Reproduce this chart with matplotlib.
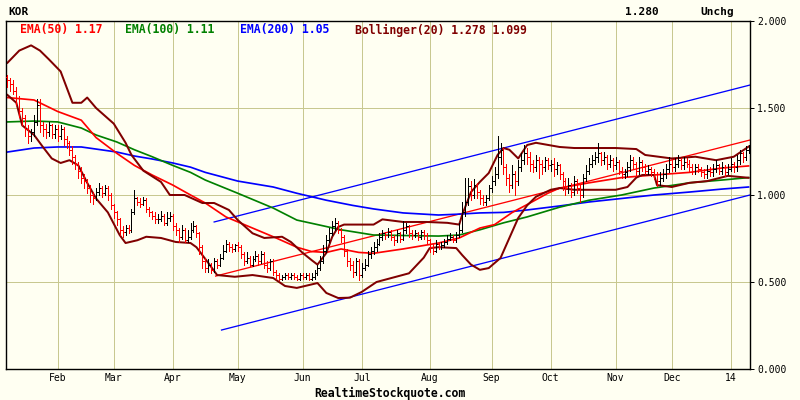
import numpy as np
import matplotlib
matplotlib.use("Agg")
import matplotlib.pyplot as plt

# daily bars, index 0 = first trading day shown (early Jan 2013)
closes = [
    1.66, 1.64, 1.60, 1.56, 1.48, 1.44, 1.38, 1.34, 1.36, 1.42, 1.52, 1.40,
    1.38, 1.36, 1.40, 1.35, 1.38, 1.34, 1.38, 1.32, 1.30, 1.26, 1.22, 1.18,
    1.14, 1.10, 1.08, 1.04, 1.00, 0.98, 1.02, 1.04, 1.01, 1.04, 1.00, 0.94,
    0.90, 0.86, 0.80, 0.79, 0.81, 0.80, 0.90, 0.98, 0.96, 0.95, 0.97, 0.92,
    0.90, 0.88, 0.86, 0.86, 0.88, 0.84, 0.87, 0.88, 0.82, 0.80, 0.76, 0.80,
    0.74, 0.76, 0.80, 0.82, 0.78, 0.70, 0.62, 0.58, 0.60, 0.57, 0.62, 0.60,
    0.64, 0.68, 0.72, 0.70, 0.69, 0.71, 0.70, 0.66, 0.62, 0.64, 0.60, 0.63,
    0.65, 0.62, 0.66, 0.60, 0.58, 0.62, 0.56, 0.54, 0.52, 0.53, 0.54, 0.53,
    0.54, 0.53, 0.52, 0.54, 0.53, 0.54, 0.52, 0.53, 0.55, 0.58, 0.62, 0.68,
    0.74, 0.78, 0.82, 0.84, 0.80, 0.76, 0.68, 0.62, 0.60, 0.56, 0.62, 0.54,
    0.58, 0.60, 0.66, 0.68, 0.70, 0.72, 0.76, 0.78, 0.77, 0.79, 0.76, 0.74,
    0.78, 0.75, 0.80, 0.82, 0.78, 0.77, 0.78, 0.76, 0.79, 0.77, 0.74, 0.70,
    0.68, 0.72, 0.70, 0.71, 0.73, 0.75, 0.76, 0.74, 0.77, 0.80, 0.90, 0.96,
    1.05, 1.00, 1.06, 1.02, 0.98, 0.96, 0.98, 1.04, 1.08, 1.12, 1.22, 1.26,
    1.16, 1.10, 1.06, 1.12, 1.08, 1.16, 1.20, 1.24, 1.22, 1.18, 1.16, 1.20,
    1.18, 1.16, 1.20, 1.17, 1.18, 1.15, 1.17, 1.12, 1.08, 1.04, 1.06, 1.02,
    1.08, 1.04, 1.00, 1.10, 1.14, 1.18, 1.20, 1.22, 1.24, 1.20, 1.22, 1.18,
    1.20, 1.17, 1.19, 1.14, 1.12, 1.13, 1.16, 1.20, 1.18, 1.14, 1.19, 1.16,
    1.14, 1.15, 1.13, 1.12, 1.08, 1.10, 1.12, 1.15, 1.18, 1.16, 1.18, 1.20,
    1.17, 1.19, 1.18, 1.16, 1.14, 1.16, 1.15, 1.13, 1.12, 1.14, 1.13, 1.15,
    1.17, 1.14, 1.16, 1.13, 1.15, 1.18, 1.16, 1.20, 1.24, 1.22, 1.26, 1.28,
]
opens = [
    1.68, 1.66, 1.64, 1.60, 1.56, 1.48, 1.44, 1.38, 1.34, 1.36, 1.42, 1.52,
    1.40, 1.38, 1.36, 1.40, 1.35, 1.38, 1.34, 1.38, 1.32, 1.30, 1.26, 1.22,
    1.18, 1.14, 1.10, 1.08, 1.04, 1.00, 0.98, 1.02, 1.04, 1.01, 1.04, 1.00,
    0.94, 0.90, 0.86, 0.80, 0.79, 0.81, 0.80, 0.90, 0.98, 0.96, 0.95, 0.97,
    0.92, 0.90, 0.88, 0.86, 0.86, 0.88, 0.84, 0.87, 0.88, 0.82, 0.80, 0.76,
    0.80, 0.74, 0.76, 0.80, 0.82, 0.78, 0.70, 0.62, 0.58, 0.60, 0.57, 0.62,
    0.60, 0.64, 0.68, 0.72, 0.70, 0.69, 0.71, 0.70, 0.66, 0.62, 0.64, 0.60,
    0.63, 0.65, 0.62, 0.66, 0.60, 0.58, 0.62, 0.56, 0.54, 0.52, 0.53, 0.54,
    0.53, 0.54, 0.53, 0.52, 0.54, 0.53, 0.54, 0.52, 0.53, 0.55, 0.58, 0.62,
    0.68, 0.74, 0.78, 0.82, 0.84, 0.80, 0.76, 0.68, 0.62, 0.60, 0.56, 0.62,
    0.54, 0.58, 0.60, 0.66, 0.68, 0.70, 0.72, 0.76, 0.78, 0.77, 0.79, 0.76,
    0.74, 0.78, 0.75, 0.80, 0.82, 0.78, 0.77, 0.78, 0.76, 0.79, 0.77, 0.74,
    0.70, 0.68, 0.72, 0.70, 0.71, 0.73, 0.75, 0.76, 0.74, 0.77, 0.80, 0.90,
    0.96, 1.05, 1.00, 1.06, 1.02, 0.98, 0.96, 0.98, 1.04, 1.08, 1.12, 1.22,
    1.26, 1.16, 1.10, 1.06, 1.12, 1.08, 1.16, 1.20, 1.24, 1.22, 1.18, 1.16,
    1.20, 1.18, 1.16, 1.20, 1.17, 1.18, 1.15, 1.17, 1.12, 1.08, 1.04, 1.06,
    1.02, 1.08, 1.04, 1.00, 1.10, 1.14, 1.18, 1.20, 1.22, 1.24, 1.20, 1.22,
    1.18, 1.20, 1.17, 1.19, 1.14, 1.12, 1.13, 1.16, 1.20, 1.18, 1.14, 1.19,
    1.16, 1.14, 1.15, 1.13, 1.12, 1.08, 1.10, 1.12, 1.15, 1.18, 1.16, 1.18,
    1.20, 1.17, 1.19, 1.18, 1.16, 1.14, 1.16, 1.15, 1.13, 1.12, 1.14, 1.13,
    1.15, 1.17, 1.14, 1.16, 1.13, 1.15, 1.18, 1.16, 1.20, 1.24, 1.22, 1.26,
]
highs = [
    1.69, 1.67, 1.66, 1.62, 1.57, 1.50, 1.46, 1.40, 1.38, 1.46, 1.55, 1.55,
    1.42, 1.41, 1.42, 1.41, 1.40, 1.40, 1.40, 1.39, 1.34, 1.31, 1.28, 1.23,
    1.19, 1.16, 1.12, 1.09, 1.06, 1.02, 1.04, 1.07, 1.05, 1.06, 1.05, 1.01,
    0.95, 0.91, 0.87, 0.82, 0.83, 0.83, 0.92, 1.03, 0.99, 0.98, 0.99, 0.98,
    0.93, 0.91, 0.90, 0.89, 0.91, 0.89, 0.90, 0.90, 0.89, 0.84, 0.81, 0.83,
    0.81, 0.80, 0.84, 0.85, 0.83, 0.79, 0.71, 0.64, 0.63, 0.61, 0.64, 0.63,
    0.66, 0.71, 0.74, 0.73, 0.72, 0.72, 0.73, 0.71, 0.67, 0.67, 0.65, 0.65,
    0.68, 0.66, 0.68, 0.67, 0.62, 0.63, 0.63, 0.57, 0.55, 0.54, 0.55, 0.55,
    0.55, 0.55, 0.54, 0.55, 0.55, 0.55, 0.55, 0.55, 0.57, 0.60, 0.65, 0.71,
    0.77, 0.81, 0.85, 0.87, 0.85, 0.81, 0.77, 0.69, 0.64, 0.62, 0.64, 0.63,
    0.61, 0.63, 0.68, 0.70, 0.73, 0.75, 0.78, 0.80, 0.79, 0.81, 0.80, 0.77,
    0.80, 0.79, 0.85, 0.84, 0.83, 0.80, 0.80, 0.79, 0.80, 0.80, 0.78, 0.75,
    0.72, 0.74, 0.73, 0.73, 0.75, 0.77, 0.78, 0.77, 0.79, 0.84, 0.96, 1.10,
    1.10, 1.08, 1.09, 1.07, 1.03, 1.00, 1.00, 1.06, 1.11, 1.16, 1.34, 1.30,
    1.27, 1.18, 1.12, 1.17, 1.14, 1.20, 1.24, 1.29, 1.27, 1.25, 1.20, 1.23,
    1.22, 1.20, 1.22, 1.21, 1.20, 1.21, 1.19, 1.18, 1.13, 1.10, 1.10, 1.07,
    1.11, 1.09, 1.06, 1.12, 1.17, 1.21, 1.23, 1.25, 1.30, 1.25, 1.25, 1.23,
    1.23, 1.21, 1.22, 1.20, 1.16, 1.15, 1.19, 1.23, 1.22, 1.19, 1.22, 1.20,
    1.18, 1.17, 1.16, 1.15, 1.13, 1.13, 1.15, 1.18, 1.22, 1.20, 1.21, 1.23,
    1.21, 1.22, 1.21, 1.20, 1.18, 1.18, 1.18, 1.16, 1.15, 1.17, 1.16, 1.18,
    1.20, 1.18, 1.19, 1.17, 1.18, 1.21, 1.19, 1.23, 1.26, 1.25, 1.28, 1.29,
]
lows = [
    1.62, 1.60, 1.58, 1.52, 1.45, 1.40, 1.34, 1.30, 1.31, 1.34, 1.40, 1.36,
    1.34, 1.33, 1.34, 1.33, 1.33, 1.31, 1.32, 1.29, 1.27, 1.23, 1.18, 1.15,
    1.10, 1.07, 1.04, 1.01, 0.96, 0.95, 0.97, 1.00, 0.99, 1.00, 0.97, 0.92,
    0.87, 0.83, 0.77, 0.76, 0.77, 0.78, 0.79, 0.89, 0.94, 0.93, 0.94, 0.90,
    0.88, 0.86, 0.84, 0.84, 0.85, 0.83, 0.83, 0.85, 0.80, 0.77, 0.73, 0.75,
    0.73, 0.73, 0.75, 0.79, 0.76, 0.66, 0.58, 0.56, 0.56, 0.55, 0.56, 0.58,
    0.59, 0.63, 0.67, 0.68, 0.67, 0.68, 0.68, 0.64, 0.60, 0.61, 0.59, 0.59,
    0.62, 0.60, 0.61, 0.58, 0.56, 0.57, 0.54, 0.52, 0.51, 0.51, 0.52, 0.52,
    0.52, 0.52, 0.51, 0.51, 0.52, 0.52, 0.51, 0.51, 0.52, 0.54, 0.57, 0.61,
    0.67, 0.73, 0.77, 0.80, 0.78, 0.73, 0.65, 0.59, 0.57, 0.53, 0.54, 0.51,
    0.53, 0.57, 0.59, 0.64, 0.66, 0.68, 0.71, 0.74, 0.75, 0.76, 0.74, 0.71,
    0.73, 0.73, 0.74, 0.78, 0.76, 0.75, 0.76, 0.74, 0.75, 0.75, 0.72, 0.67,
    0.66, 0.67, 0.69, 0.69, 0.70, 0.72, 0.74, 0.73, 0.73, 0.76, 0.79, 0.88,
    0.94, 0.97, 0.98, 0.98, 0.95, 0.94, 0.94, 0.97, 1.02, 1.06, 1.10, 1.18,
    1.12, 1.06, 1.02, 1.04, 1.00, 1.06, 1.14, 1.18, 1.18, 1.14, 1.13, 1.14,
    1.10, 1.12, 1.14, 1.15, 1.14, 1.11, 1.12, 1.09, 1.03, 1.00, 1.01, 0.99,
    1.00, 1.01, 0.96, 0.99, 1.08, 1.12, 1.16, 1.18, 1.19, 1.17, 1.18, 1.15,
    1.16, 1.14, 1.15, 1.12, 1.10, 1.10, 1.11, 1.14, 1.15, 1.11, 1.12, 1.14,
    1.12, 1.12, 1.11, 1.09, 1.05, 1.06, 1.08, 1.10, 1.13, 1.14, 1.14, 1.16,
    1.15, 1.15, 1.16, 1.14, 1.12, 1.12, 1.13, 1.11, 1.10, 1.10, 1.11, 1.11,
    1.13, 1.12, 1.12, 1.11, 1.12, 1.14, 1.13, 1.14, 1.18, 1.19, 1.20, 1.24,
]

# indicator readings (bar index, value)
ema50_idx = [0, 9, 17, 25, 30, 37, 43, 49, 56, 62, 67, 74, 83, 91, 98, 103, 108, 113,
             119, 124, 134, 146, 153, 160, 165, 171, 177, 183, 187, 197, 208, 219, 231, 242, 251]
ema50 = [1.56, 1.546, 1.48, 1.43, 1.33, 1.24, 1.17, 1.115, 1.057, 1.00, 0.954, 0.874, 0.81,
         0.753, 0.70, 0.675, 0.67, 0.69, 0.67, 0.665, 0.69, 0.724, 0.753, 0.81, 0.83, 0.90,
         0.954, 1.01, 1.04, 1.07, 1.10, 1.115, 1.13, 1.155, 1.167]

ema100_idx = [0, 9, 17, 25, 30, 37, 43, 49, 56, 62, 67, 78, 90, 98, 105, 113, 124, 146,
              153, 160, 168, 176, 187, 197, 208, 219, 231, 242, 251]
ema100 = [1.42, 1.425, 1.42, 1.385, 1.345, 1.305, 1.26, 1.22, 1.17, 1.13, 1.086, 1.01, 0.925,
          0.856, 0.83, 0.80, 0.77, 0.764, 0.77, 0.80, 0.84, 0.874, 0.93, 0.97, 1.00, 1.04,
          1.07, 1.086, 1.10]

ema200_idx = [0, 9, 17, 25, 30, 37, 43, 49, 56, 62, 67, 78, 90, 98, 108, 117, 124, 134,
              146, 153, 160, 168, 176, 187, 197, 208, 219, 231, 242, 251]
ema200 = [1.247, 1.27, 1.276, 1.276, 1.264, 1.247, 1.224, 1.207, 1.184, 1.16, 1.13, 1.08,
          1.046, 1.01, 0.97, 0.94, 0.92, 0.897, 0.885, 0.89, 0.897, 0.90, 0.914, 0.937,
          0.96, 0.98, 1.00, 1.017, 1.034, 1.046]

bb_up_idx = [0, 4, 8, 11, 14, 18, 22, 25, 27, 30, 36, 40, 42, 46, 52, 55, 60, 66, 70, 75,
             78, 83, 87, 93, 96, 100, 103, 105, 108, 110, 112, 114, 124, 127, 134, 142, 149,
             153, 154, 157, 160, 163, 166, 168, 170, 173, 176, 179, 187, 192, 206, 213, 216,
             225, 233, 240, 246, 251]
bb_up = [1.76, 1.83, 1.86, 1.83, 1.78, 1.71, 1.53, 1.53, 1.56, 1.50, 1.41, 1.30, 1.23, 1.14,
         1.075, 1.00, 1.00, 0.954, 0.954, 0.914, 0.856, 0.78, 0.753, 0.76, 0.73, 0.667, 0.626,
         0.60, 0.667, 0.76, 0.816, 0.83, 0.83, 0.86, 0.845, 0.845, 0.84, 0.83, 0.885, 1.017,
         1.075, 1.126, 1.23, 1.27, 1.26, 1.21, 1.287, 1.30, 1.276, 1.27, 1.27, 1.264, 1.23,
         1.21, 1.22, 1.20, 1.22, 1.278]

bb_lo_idx = [0, 3, 5, 9, 12, 15, 18, 21, 24, 27, 30, 34, 38, 40, 44, 47, 52, 57, 62, 64, 68,
             71, 77, 83, 90, 94, 98, 105, 108, 112, 116, 120, 125, 136, 141, 143, 146, 152,
             154, 157, 160, 163, 167, 170, 173, 176, 179, 184, 187, 192, 206, 210, 213, 215,
             219, 220, 225, 231, 237, 244, 251]
bb_lo = [1.575, 1.53, 1.40, 1.345, 1.276, 1.21, 1.184, 1.20, 1.17, 1.07, 0.98, 0.90, 0.77,
         0.724, 0.74, 0.76, 0.753, 0.73, 0.724, 0.70, 0.61, 0.54, 0.53, 0.54, 0.523, 0.477,
         0.466, 0.494, 0.437, 0.408, 0.41, 0.443, 0.50, 0.55, 0.64, 0.695, 0.70, 0.695, 0.655,
         0.60, 0.57, 0.58, 0.638, 0.753, 0.868, 0.94, 0.99, 1.03, 1.04, 1.03, 1.03, 1.046,
         1.10, 1.115, 1.115, 1.057, 1.046, 1.07, 1.08, 1.11, 1.099]

# hand-drawn trend channel (start/end bar index, value)
chan_up_idx, chan_up = [70, 251.5], [0.845, 1.632]
chan_lo_idx, chan_lo = [72.5, 251.5], [0.224, 1.00]
chan_mid_idx, chan_mid = [70.5, 251.5], [0.534, 1.316]

month_idx = [17, 36, 56, 78, 100, 120, 143, 164, 184, 206, 225, 245]
month_labels = ["Feb", "Mar", "Apr", "May", "Jun", "Jul", "Aug", "Sep", "Oct", "Nov", "Dec", "14"]
y_ticks = [0.0, 0.5, 1.0, 1.5, 2.0]

bg = "#FFFFF2"
grid_c = "#C8C890"
mono = "DejaVu Sans Mono"
px = 0.72

fig = plt.figure(figsize=(8, 4), dpi=100, facecolor=bg)
ax = fig.add_axes([6 / 800, 31 / 400, 744 / 800, 348 / 400], facecolor=bg)
ax.set_xlim(-0.5, 251.5)
ax.set_ylim(0, 2)

for m in month_idx:
    ax.axvline(m, color=grid_c, lw=px, zorder=0, antialiased=False)
for v in [0.5, 1.0, 1.5]:
    ax.axhline(v, color=grid_c, lw=px, zorder=0, antialiased=False)

idx = np.arange(len(closes))
c = np.array(closes)
o = np.array(opens)
colors = np.where(c < o, "#FF0000", "#000000")
ax.vlines(idx, lows, highs, colors=colors, lw=1.0 * px, zorder=3, antialiased=False)
ax.hlines(o, idx - 0.5, idx, colors=colors, lw=1.0 * px, zorder=3, antialiased=False)
ax.hlines(c, idx, idx + 0.5, colors=colors, lw=1.0 * px, zorder=3, antialiased=False)

ax.plot(chan_up_idx, chan_up, color="#0000FF", lw=1.3 * px, zorder=2)
ax.plot(chan_lo_idx, chan_lo, color="#0000FF", lw=1.3 * px, zorder=2)
ax.plot(chan_mid_idx, chan_mid, color="#FF0000", lw=1.3 * px, zorder=2)

ax.plot(ema200_idx, ema200, color="#0000FF", lw=1.7 * px, zorder=2)
ax.plot(ema100_idx, ema100, color="#008000", lw=1.7 * px, zorder=2)
ax.plot(ema50_idx, ema50, color="#FF0000", lw=1.7 * px, zorder=2)
ax.plot(bb_up_idx, bb_up, color="#800000", lw=2.0 * px, zorder=2)
ax.plot(bb_lo_idx, bb_lo, color="#800000", lw=2.0 * px, zorder=2)

for s in ax.spines.values():
    s.set_color("black")
    s.set_linewidth(1.4 * px)

ax.set_xticks(month_idx)
ax.set_xticklabels(month_labels, fontfamily=mono, fontsize=7)
ax.tick_params(axis="x", length=0, pad=3)
ax.yaxis.tick_right()
ax.set_yticks(y_ticks)
ax.set_yticklabels(["%.3f" % v for v in y_ticks], fontfamily=mono, fontsize=7)
ax.tick_params(axis="y", length=3, pad=2, width=px)

# header and legend
fig.text(8 / 800, 1 - 12 / 400, "KOR", fontfamily=mono, fontweight="bold", fontsize=8,
         va="center", ha="left")
fig.text(625 / 800, 1 - 12 / 400, "1.280", fontfamily=mono, fontweight="bold", fontsize=8,
         va="center", ha="left")
fig.text(700 / 800, 1 - 12 / 400, "Unchg", fontfamily=mono, fontweight="bold", fontsize=8,
         va="center", ha="left")
legend = [(20, "EMA(50) 1.17", "#FF0000"), (125, "EMA(100) 1.11", "#008000"),
          (240, "EMA(200) 1.05", "#0000FF"), (355, "Bollinger(20) 1.278 1.099", "#800000")]
for x, t, col in legend:
    fig.text(x / 800, 1 - 30 / 400, t, color=col, fontfamily=mono, fontweight="bold",
             fontsize=8.3, va="center", ha="left")
fig.text(390 / 800, 1 - 393 / 400, "RealtimeStockquote.com", fontfamily=mono,
         fontweight="bold", fontsize=8.3, va="center", ha="center")

fig.savefig("out.png", dpi=100, facecolor=bg)
